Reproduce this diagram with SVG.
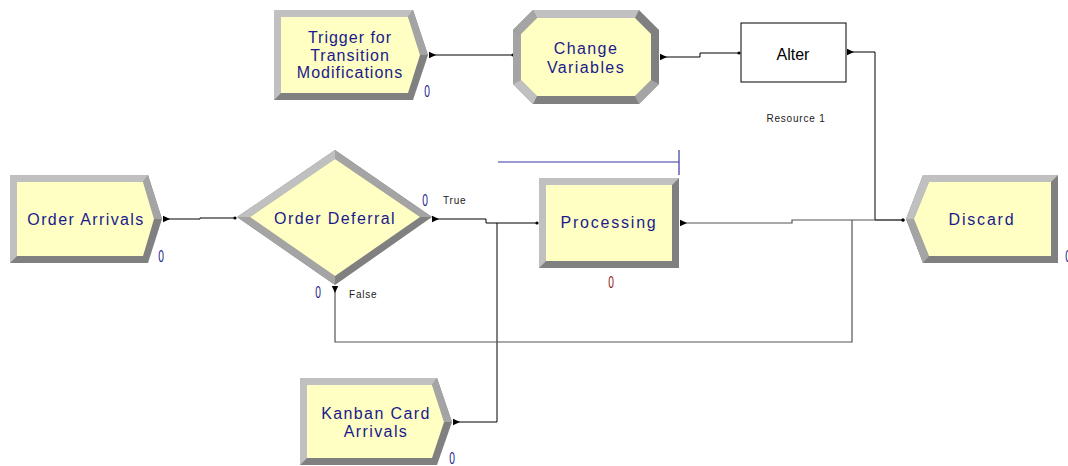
<svg xmlns="http://www.w3.org/2000/svg" width="1068" height="466" viewBox="0 0 1068 466">
  <style>
    .fill { fill: #FFFFC4; }
    .lt { fill: #C0C0C0; }
    .md { fill: #A4A4A4; }
    .dk { fill: #808080; }
    .lbl { font-family: "Liberation Sans", Arial, sans-serif; font-size: 16px; fill: #1A1A8C; text-anchor: middle; letter-spacing: 1.4px; }
    .small { font-family: "Liberation Sans", Arial, sans-serif; font-size: 10px; fill: #202020; letter-spacing: 0.8px; }
    .cnt { font-family: "Liberation Sans", Arial, sans-serif; font-size: 17px; fill: #1A1A8C; text-anchor: middle; }
    .wire { fill: none; stroke: #000; stroke-width: 1; }
    .wire2 { fill: none; stroke: #555; stroke-width: 1.2; }
  </style>
  <defs>
    <marker id="out" viewBox="0 0 8 8" refX="0" refY="4" markerWidth="8" markerHeight="8" markerUnits="userSpaceOnUse" orient="auto">
      <path d="M0,0.8 L7,4 L0,7.2 Z" fill="#000"/>
    </marker>
    <marker id="dot" viewBox="0 0 4 4" refX="2" refY="2" markerWidth="4" markerHeight="4" markerUnits="userSpaceOnUse">
      <circle cx="2" cy="2" r="1.6" fill="#000"/>
    </marker>
  </defs>
  <rect width="1068" height="466" fill="#fff"/>

  <!-- connectors -->
  <g id="connectors">
    <path class="wire" d="M429,55 H513" marker-start="url(#out)" marker-end="url(#dot)"/>
    <path class="wire" d="M660,57 H700 V53 H739" marker-start="url(#out)" marker-end="url(#dot)"/>
    <path class="wire" d="M847,52 H875 V220 H903" marker-start="url(#out)" marker-end="url(#dot)"/>
    <path class="wire" d="M163,219 H200 V218 H235" marker-start="url(#out)" marker-end="url(#dot)"/>
    <path class="wire" d="M432,219 H486 V223 H537" marker-start="url(#out)" marker-end="url(#dot)"/>
    <path class="wire" d="M453,422 H497 V223" marker-start="url(#out)"/>
    <path class="wire2" d="M680,223 H792 V220 H903" marker-start="url(#out)" marker-end="url(#dot)"/>
    <path class="wire2" d="M335,286 V342 H852 V220" marker-start="url(#out)"/>
  </g>

  <!-- Trigger for Transition Modifications (create) -->
  <g id="trigger">
    <polygon class="dk" points="274,10 413,10 428,55 413,100 274,100"/>
    <polygon class="lt" points="274,10 413,10 408,17 281,17 281,93 274,100"/>
    <polygon class="md" points="413,10 428,55 420,55 408,17"/>
    <polygon class="fill" points="281,17 408,17 420,55 408,93 281,93"/>
    <text class="lbl" x="350" y="43" style="letter-spacing:1px">Trigger for</text>
    <text class="lbl" x="350" y="61" style="letter-spacing:1px">Transition</text>
    <text class="lbl" x="350" y="78" style="letter-spacing:1px">Modifications</text>
    <text class="cnt" x="427" y="97" transform="translate(427 0) scale(0.6 1) translate(-427 0)">0</text>
  </g>

  <!-- Change Variables (assign) -->
  <g id="change-variables">
    <polygon class="dk" points="533,10 639,10 659,30 659,84 639,104 533,104 513,84 513,30"/>
    <polygon class="lt" points="533,10 639,10 635,18 537,18"/>
    <polygon class="md" points="513,30 533,10 537,18 521,34"/>
    <polygon class="md" points="513,30 521,34 521,80 513,84"/>
    <polygon class="lt" points="513,84 521,80 537,96 533,104"/>
    <polygon class="md" points="639,104 635,96 651,80 659,84"/>
    <polygon class="fill" points="537,18 635,18 651,34 651,80 635,96 537,96 521,80 521,34"/>
    <text class="lbl" x="586" y="54">Change</text>
    <text class="lbl" x="586" y="73">Variables</text>
  </g>

  <!-- Alter (resource block) -->
  <g id="alter">
    <rect x="741" y="23" width="105" height="59" fill="#fff" stroke="#000" stroke-width="1"/>
    <text x="793" y="60" font-family="Liberation Sans, Arial, sans-serif" font-size="16" fill="#000" text-anchor="middle">Alter</text>
    <text class="small" x="796" y="122" text-anchor="middle">Resource 1</text>
  </g>

  <!-- Order Arrivals (create) -->
  <g id="order-arrivals">
    <polygon class="dk" points="10,175 148,175 162,219 148,263 10,263"/>
    <polygon class="lt" points="10,175 148,175 143,182 17,182 17,256 10,263"/>
    <polygon class="md" points="148,175 162,219 154,219 143,182"/>
    <polygon class="fill" points="17,182 143,182 154,219 143,256 17,256"/>
    <text class="lbl" x="86" y="225">Order Arrivals</text>
    <text class="cnt" x="161" y="262" transform="translate(161 0) scale(0.6 1) translate(-161 0)">0</text>
  </g>

  <!-- Order Deferral (decide) -->
  <g id="order-deferral">
    <polygon class="dk" points="237,217 335,150 432,217 335,285"/>
    <polygon class="lt" points="237,217 335,150 335,159 250,217"/>
    <polygon class="md" points="335,150 432,217 420,217 335,159"/>
    <polygon class="md" points="237,217 250,217 335,276 335,285"/>
    <polygon class="fill" points="250,217 335,159 420,217 335,276"/>
    <text class="lbl" x="335" y="224">Order Deferral</text>
    <text class="cnt" x="425" y="206" transform="translate(425 0) scale(0.6 1) translate(-425 0)">0</text>
    <text class="small" x="443" y="204">True</text>
    <text class="cnt" x="318" y="298" transform="translate(318 0) scale(0.6 1) translate(-318 0)">0</text>
    <text class="small" x="349" y="298">False</text>
  </g>

  <!-- Processing (process) -->
  <g id="processing">
    <path d="M498,162 H679 M679,150 V175" fill="none" stroke="#3838A0" stroke-width="1.2"/>
    <rect class="dk" x="539" y="178" width="140" height="90"/>
    <polygon class="lt" points="539,178 679,178 672,185 546,185 546,261 539,268"/>
    <rect class="fill" x="546" y="185" width="126" height="76"/>
    <text class="lbl" x="609" y="228" style="letter-spacing:1.8px">Processing</text>
    <text class="cnt" x="611" y="288" style="fill:#8B1A1A" transform="translate(611 0) scale(0.6 1) translate(-611 0)">0</text>
  </g>

  <!-- Kanban Card Arrivals (create) -->
  <g id="kanban-card-arrivals">
    <polygon class="dk" points="300,378 437,378 452,422 437,465 300,465"/>
    <polygon class="lt" points="300,378 437,378 432,385 307,385 307,458 300,465"/>
    <polygon class="md" points="437,378 452,422 444,422 432,385"/>
    <polygon class="fill" points="307,385 432,385 444,422 432,458 307,458"/>
    <text class="lbl" x="376" y="419">Kanban Card</text>
    <text class="lbl" x="376" y="437">Arrivals</text>
    <text class="cnt" x="452" y="464" transform="translate(452 0) scale(0.6 1) translate(-452 0)">0</text>
  </g>

  <!-- Discard (dispose) -->
  <g id="discard">
    <polygon class="dk" points="923,175 1058,175 1058,263 923,263 906,219"/>
    <polygon class="lt" points="923,175 1058,175 1051,182 929,182 914,219 906,219"/>
    <polygon class="md" points="906,219 914,219 929,256 923,263"/>
    <polygon class="fill" points="929,182 1051,182 1051,256 929,256 914,219"/>
    <text class="lbl" x="982" y="225" style="letter-spacing:1.8px">Discard</text>
    <text class="cnt" x="1068" y="262" transform="translate(1068 0) scale(0.6 1) translate(-1068 0)">0</text>
  </g>
</svg>
